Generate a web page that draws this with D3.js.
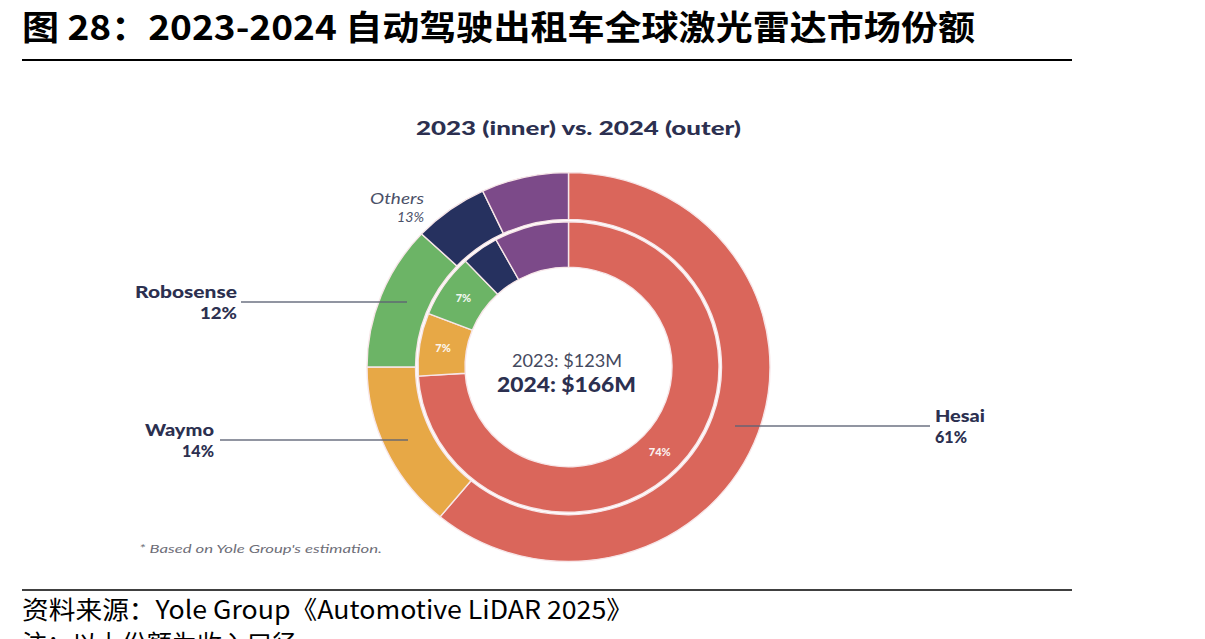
<!DOCTYPE html>
<html><head><meta charset="utf-8">
<script src="https://cdn.jsdelivr.net/npm/d3@7/dist/d3.min.js"></script>
<style>html,body{margin:0;padding:0;background:#fff;}svg{display:block;}</style>
</head><body>
<svg id="chart" width="1205" height="639"></svg>
<script>
// ---- data ----
const companies = ["Hesai", "Waymo", "Robosense", "Others A", "Others B"];
const share2024 = [61, 14, 12, 6, 7];   // outer ring
const share2023 = [74, 7, 7, 4, 8];     // inner ring
const colors = ["#DA665B", "#E7A846", "#6CB466", "#26315F", "#7C4A89"];
const innerLabels = ["74%", "7%", "7%", "", ""];
const outerLabels = [
  {name: "Hesai", pct: "61%"},
  {name: "Waymo", pct: "14%"},
  {name: "Robosense", pct: "12%"},
  {name: "Others", pct: "13%"}
];
const titleText = "图 28：2023-2024 自动驾驶出租车全球激光雷达市场份额";
const chartTitle = "2023 (inner) vs. 2024 (outer)";
const centerLine1 = "2023: $123M";
const centerLine2 = "2024: $166M";
const noteText = "* Based on Yole Group's estimation.";
const sourceText = "资料来源：Yole Group《Automotive LiDAR 2025》";
const noteText2 = "注：以上份额为收入口径";

const svg = d3.select("#chart");
const navy = "#2C3050";

function fit(sel, w) {
  sel.attr("textLength", w).attr("lengthAdjust", "spacingAndGlyphs");
  return sel;
}

// ---- header ----
fit(svg.append("text").attr("x", 22).attr("y", 40)
  .attr("font-family", "Noto Sans CJK SC").attr("font-weight", 700)
  .attr("font-size", 34).attr("fill", "#000").text(titleText), 953);
svg.append("line").attr("x1", 22).attr("x2", 1072).attr("y1", 60).attr("y2", 60)
  .attr("stroke", "#000").attr("stroke-width", 2);

fit(svg.append("text").attr("x", 416).attr("y", 135)
  .attr("font-family", "Lato, 'Open Sans', sans-serif").attr("font-weight", 900)
  .attr("font-size", 19).attr("fill", navy).text(chartTitle), 325);

// ---- donuts ----
const cx = 568.5, cy = 367, sy = 0.965;
const g = svg.append("g").attr("transform", `translate(${cx},${cy}) scale(1,${sy})`);
const pie = d3.pie().sort(null).value(d => d).startAngle(0).endAngle(2 * Math.PI);

const outerArc = d3.arc().innerRadius(153).outerRadius(201.5);
const innerArc = d3.arc().innerRadius(103.5).outerRadius(150.5);

g.selectAll("path.outer").data(pie(share2024)).join("path")
  .attr("class", "outer").attr("d", outerArc)
  .attr("fill", (d, i) => colors[i])
  .attr("stroke", "#F7E6E8").attr("stroke-width", 1.4);

g.selectAll("path.inner").data(pie(share2023)).join("path")
  .attr("class", "inner").attr("d", innerArc)
  .attr("fill", (d, i) => colors[i])
  .attr("stroke", "#F7E6E8").attr("stroke-width", 1.4);

// inner labels
const innerPie = pie(share2023);
const labelArc = d3.arc().innerRadius(127).outerRadius(127);
innerPie.forEach((d, i) => {
  if (!innerLabels[i]) return;
  let [x, y] = labelArc.centroid(d);
  if (i === 0) { // 74% label placed lower-right like the reference
    const a = 2.34; x = Math.sin(a) * 127; y = -Math.cos(a) * 127;
  }
  svg.append("text").attr("x", cx + x).attr("y", cy + y * sy + 4)
    .attr("text-anchor", "middle")
    .attr("font-family", "Lato, sans-serif").attr("font-weight", 900)
    .attr("font-size", 11).attr("fill", "#fff").attr("opacity", 0.9)
    .text(innerLabels[i]);
});

// center text
fit(svg.append("text").attr("x", 512).attr("y", 367)
  .attr("font-family", "Lato, sans-serif").attr("font-weight", 400)
  .attr("font-size", 17).attr("fill", "#45495E").text(centerLine1), 110);
fit(svg.append("text").attr("x", 497).attr("y", 392)
  .attr("font-family", "Lato, sans-serif").attr("font-weight", 900)
  .attr("font-size", 21).attr("fill", navy).text(centerLine2), 139);

// ---- callouts ----
const lineColor = "#5E6374";
function callout(x1, x2, y) {
  svg.append("line").attr("x1", x1).attr("x2", x2).attr("y1", y).attr("y2", y)
    .attr("stroke", lineColor).attr("stroke-width", 1.6).attr("opacity", 0.9);
}
function label(x, y, txt, anchor, w, opts = {}) {
  const t = svg.append("text").attr("x", x).attr("y", y).attr("text-anchor", anchor)
    .attr("font-family", "Lato, sans-serif").attr("font-weight", opts.weight || 900)
    .attr("font-style", opts.italic ? "italic" : "normal")
    .attr("font-size", opts.size || 16).attr("fill", opts.fill || navy).text(txt);
  if (w) fit(t, w);
  return t;
}
// Hesai
callout(735, 930, 426);
label(935, 422, outerLabels[0].name, "start", 50);
label(935, 443, outerLabels[0].pct, "start", 32);
// Waymo
callout(220, 408, 440);
label(214, 436, outerLabels[1].name, "end", 69);
label(214, 457, outerLabels[1].pct, "end", 32);
// Robosense
callout(241, 407, 302);
label(237, 298, outerLabels[2].name, "end", 102);
label(237, 319, outerLabels[2].pct, "end", 37);
// Others
label(424, 204, outerLabels[3].name, "end", 54, {weight: 400, italic: true, size: 15, fill: "#4A5068"});
label(424, 222, outerLabels[3].pct, "end", 27, {weight: 400, italic: true, size: 14, fill: "#4A5068"});

// note
fit(svg.append("text").attr("x", 139).attr("y", 553)
  .attr("font-family", "Lato, sans-serif").attr("font-style", "italic")
  .attr("font-size", 11).attr("fill", "#6E6E78").text(noteText), 243);

// ---- footer ----
svg.append("line").attr("x1", 22).attr("x2", 1072).attr("y1", 590).attr("y2", 590)
  .attr("stroke", "#000").attr("stroke-width", 1.6);
fit(svg.append("text").attr("x", 22).attr("y", 619)
  .attr("font-family", "Noto Sans CJK SC").attr("font-weight", 400)
  .attr("font-size", 25).attr("fill", "#000").text(sourceText), 611);
svg.append("text").attr("x", 22).attr("y", 653)
  .attr("font-family", "Noto Sans CJK SC").attr("font-weight", 400)
  .attr("font-size", 25).attr("fill", "#000").text(noteText2);
</script>
</body></html>
